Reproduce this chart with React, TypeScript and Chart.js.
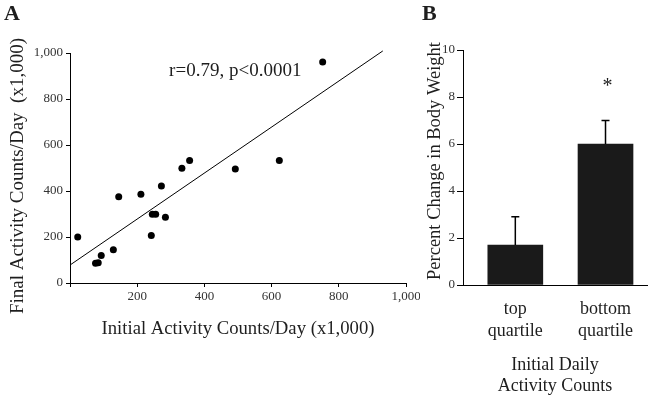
import React, { useEffect, useRef } from 'react';
import { Chart, registerables } from 'chart.js';

Chart.register(...registerables);

const SERIF = '"Liberation Serif", "Times New Roman", Times, serif';
const TEXT = '#1e1e1e';
const TICK = '#333333';

// Panel A: scatter data (x1,000 counts/day)
const initialCounts = [23, 76, 84, 93, 129, 145, 211, 242, 245, 255, 272, 284, 333, 356, 492, 623, 752];
const finalCounts = [200, 86, 88, 120, 145, 375, 386, 207, 299, 299, 422, 286, 499, 533, 496, 533, 961];
const fitLineX = [3, 931];
const fitLineY = [81, 1009];
const xTicksA = [0, 200, 400, 600, 800, 1000];
const yTicksA = [0, 200, 400, 600, 800, 1000];
const annotationText = 'r=0.79, p<0.0001';
const annotationAt = { x: 295, y: 900 };
const titleXA = 'Initial Activity Counts/Day (x1,000)';
const titleYA = 'Final Activity Counts/Day  (x1,000)';

// Panel B: bar data
const groups = [['top', 'quartile'], ['bottom', 'quartile']];
const groupPositions = [1, 2];
const weightChange = [1.7, 6.0];
const weightError = [1.2, 1.0];
const significance = ['', '*'];
const starLevel = 8.55;
const yTicksB = [0, 2, 4, 6, 8, 10];
const titleXB = ['Initial Daily', 'Activity Counts'];
const titleYB = 'Percent Change in Body Weight';

const fmt = (v: number) => v.toLocaleString('en-US');

function drawRotated(ctx: CanvasRenderingContext2D, text: string, x: number, y: number, font: string) {
  ctx.save();
  ctx.translate(x, y);
  ctx.rotate(-Math.PI / 2);
  ctx.font = font;
  ctx.fillStyle = TEXT;
  ctx.textAlign = 'center';
  ctx.textBaseline = 'alphabetic';
  ctx.fillText(text, 0, 0);
  ctx.restore();
}

export default function App() {
  const refA = useRef<HTMLCanvasElement | null>(null);
  const refB = useRef<HTMLCanvasElement | null>(null);

  useEffect(() => {
    const gridA = { display: true, drawOnChartArea: false, drawTicks: true, tickLength: 4, color: '#000', lineWidth: 1 };

    const panelAPlugin = {
      id: 'panelA',
      afterDraw(chart: any) {
        const { ctx, chartArea, scales } = chart;
        ctx.save();
        ctx.fillStyle = TEXT;
        ctx.font = `bold 22px ${SERIF}`;
        ctx.textAlign = 'left';
        ctx.textBaseline = 'alphabetic';
        ctx.fillText('A', 4, 20);
        ctx.font = `19px ${SERIF}`;
        ctx.fillText(annotationText, scales.x.getPixelForValue(annotationAt.x), scales.y.getPixelForValue(annotationAt.y));
        ctx.restore();
        drawRotated(ctx, titleYA, 22.5, (chartArea.top + chartArea.bottom) / 2 + 8, `19px ${SERIF}`);
      },
    };

    const chartA = new Chart(refA.current as HTMLCanvasElement, {
      type: 'scatter',
      data: {
        datasets: [
          {
            type: 'scatter',
            data: initialCounts.map((x, i) => ({ x, y: finalCounts[i] })),
            pointRadius: 3.5,
            pointBackgroundColor: '#000',
            pointBorderColor: '#000',
            pointBorderWidth: 0,
          },
          {
            type: 'line',
            data: fitLineX.map((x, i) => ({ x, y: fitLineY[i] })),
            borderColor: '#000',
            borderWidth: 1,
            pointRadius: 0,
            fill: false,
            showLine: true,
            clip: false,
          } as any,
        ],
      },
      options: {
        responsive: false,
        animation: false,
        layout: { padding: { left: 0, top: 53, right: 14, bottom: 0 } },
        plugins: { legend: { display: false }, tooltip: { enabled: false } },
        scales: {
          x: {
            type: 'linear',
            min: 0,
            max: 1000,
            afterBuildTicks: (s: any) => { s.ticks = xTicksA.map((v) => ({ value: v })); },
            ticks: {
              callback: (v: any) => (v === 0 ? '' : fmt(v)),
              font: { family: SERIF, size: 13 },
              color: TICK,
              padding: 2,
              maxRotation: 0,
              autoSkip: false,
            },
            grid: gridA,
            border: { display: true, color: '#000', width: 1 },
            title: {
              display: true,
              text: titleXA,
              font: { family: SERIF, size: 18.7 },
              color: TEXT,
              padding: { top: 0, bottom: 60 },
            },
            afterFit: (s: any) => { s.height = 117; s.paddingLeft = 0; s.paddingRight = 0; },
          },
          y: {
            type: 'linear',
            min: 0,
            max: 1000,
            afterBuildTicks: (s: any) => { s.ticks = yTicksA.map((v) => ({ value: v })); },
            ticks: {
              callback: (v: any) => fmt(v),
              font: { family: SERIF, size: 13 },
              color: TICK,
              padding: 3,
            },
            grid: gridA,
            border: { display: true, color: '#000', width: 1 },
            afterFit: (s: any) => { s.width = 70; s.paddingTop = 0; s.paddingBottom = 0; },
          },
        },
      } as any,
      plugins: [panelAPlugin],
    });

    const panelBPlugin = {
      id: 'panelB',
      afterDatasetsDraw(chart: any) {
        const { ctx, scales } = chart;
        ctx.save();
        ctx.strokeStyle = '#000';
        ctx.lineWidth = 1.5;
        groupPositions.forEach((g, i) => {
          const x = scales.x.getPixelForValue(g);
          const yBar = scales.y.getPixelForValue(weightChange[i]);
          const yTop = scales.y.getPixelForValue(weightChange[i] + weightError[i]);
          ctx.beginPath();
          ctx.moveTo(x, yBar);
          ctx.lineTo(x, yTop);
          ctx.moveTo(x - 4, yTop);
          ctx.lineTo(x + 4, yTop);
          ctx.stroke();
          if (significance[i]) {
            ctx.fillStyle = TEXT;
            ctx.font = `20px ${SERIF}`;
            ctx.textAlign = 'center';
            ctx.textBaseline = 'middle';
            ctx.fillText(significance[i], x + 2, scales.y.getPixelForValue(starLevel) + 3);
          }
        });
        ctx.restore();
      },
      afterDraw(chart: any) {
        const { ctx, chartArea } = chart;
        ctx.save();
        ctx.fillStyle = TEXT;
        ctx.font = `bold 22px ${SERIF}`;
        ctx.textAlign = 'left';
        ctx.textBaseline = 'alphabetic';
        ctx.fillText('B', 2, 20);
        ctx.restore();
        drawRotated(ctx, titleYB, 20, (chartArea.top + chartArea.bottom) / 2 - 6.5, `18.5px ${SERIF}`);
      },
    };

    const chartB = new Chart(refB.current as HTMLCanvasElement, {
      type: 'bar',
      data: {
        datasets: [
          {
            data: groupPositions.map((x, i) => ({ x, y: weightChange[i] })),
            backgroundColor: '#1a1a1a',
            borderWidth: 0,
            barThickness: 55,
          } as any,
        ],
      },
      options: {
        responsive: false,
        animation: false,
        layout: { padding: { left: 0, top: 50, right: 5, bottom: 0 } },
        plugins: { legend: { display: false }, tooltip: { enabled: false } },
        scales: {
          x: {
            type: 'linear',
            min: 0.42,
            max: 2.46,
            offset: false,
            afterBuildTicks: (s: any) => { s.ticks = groupPositions.map((v) => ({ value: v })); },
            ticks: {
              callback: (v: any) => groups[groupPositions.indexOf(v)] ?? '',
              font: { family: SERIF, size: 18, lineHeight: 1.22 },
              color: TEXT,
              padding: 5,
              maxRotation: 0,
              autoSkip: false,
            },
            grid: { display: false },
            border: { display: true, color: '#000', width: 1 },
            title: {
              display: true,
              text: titleXB,
              font: { family: SERIF, size: 18, lineHeight: 1.17 },
              color: TEXT,
              padding: { top: 0, bottom: 3.5 },
            },
            afterFit: (s: any) => { s.height = 115; s.paddingLeft = 0; s.paddingRight = 0; },
          },
          y: {
            type: 'linear',
            min: 0,
            max: 10,
            afterBuildTicks: (s: any) => { s.ticks = yTicksB.map((v) => ({ value: v })); },
            ticks: {
              font: { family: SERIF, size: 13 },
              color: TICK,
              padding: 2,
            },
            grid: { display: true, drawOnChartArea: false, drawTicks: true, tickLength: 6, color: '#000' },
            border: { display: true, color: '#000', width: 1 },
            afterFit: (s: any) => { s.width = 43; s.paddingTop = 0; s.paddingBottom = 0; },
          },
        },
      } as any,
      plugins: [panelBPlugin],
    });

    return () => {
      chartA.destroy();
      chartB.destroy();
    };
  }, []);

  return (
    <div style={{ position: 'fixed', left: 0, top: 0, width: 652, height: 400, background: '#fff' }}>
      <canvas ref={refA} width={420} height={400} style={{ position: 'absolute', left: 0, top: 0, width: 420, height: 400 }} />
      <canvas ref={refB} width={232} height={400} style={{ position: 'absolute', left: 420, top: 0, width: 232, height: 400 }} />
    </div>
  );
}
